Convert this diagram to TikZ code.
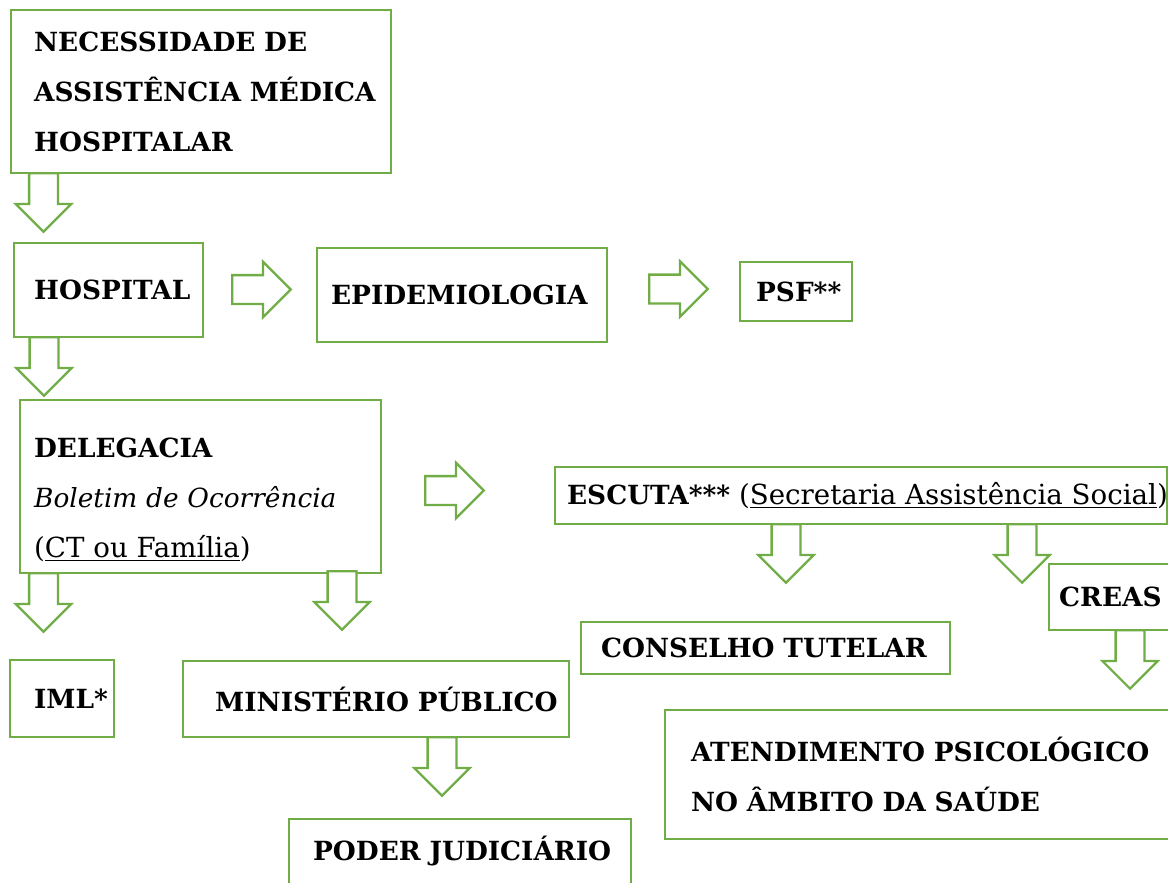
\documentclass[tikz,border=0pt]{standalone}
\usepackage{fontspec}
\setmainfont{DejaVu Serif}
\usetikzlibrary{shapes.arrows}
\definecolor{boxgreen}{HTML}{70AD47}
\newcommand{\plaintxt}{\normalfont\fontsize{15.75}{28.45}\selectfont}

\begin{document}
\begin{tikzpicture}[
    box/.style={draw=boxgreen, line width=1.3pt, fill=white, anchor=north west,
      align=left, inner ysep=0pt, font=\fontsize{15}{28.45}\selectfont\bfseries},
    darrow/.style={single arrow, shape border rotate=270, draw=boxgreen, line width=1.3pt,
      fill=white, inner sep=0.265cm, single arrow head extend=0.265cm,
      minimum height=1.17cm, anchor=tail},
    rarrow/.style={darrow, shape border rotate=0}
  ]
    \useasboundingbox (0,0) rectangle (23.36,-17.64);
    \clip (0,0) rectangle (23.36,-17.64);

    % caixas
    \node[box, text width=6.68cm, inner xsep=0.46cm, minimum height=3.26cm] (need) at (0.20,-0.18)
      {\mbox{NECESSIDADE DE}\\\mbox{ASSISTÊNCIA MÉDICA}\\\mbox{HOSPITALAR}};
    \node[box, text width=2.98cm, inner xsep=0.40cm, minimum height=1.88cm] (hosp) at (0.26,-4.84) {HOSPITAL};
    \node[box, text width=5.24cm, inner xsep=0.28cm, minimum height=1.88cm] (epid) at (6.32,-4.94) {EPIDEMIOLOGIA};
    \node[box, text width=1.60cm, inner xsep=0.32cm, minimum height=1.18cm] (psf) at (14.78,-5.22) {PSF**};
    \node[box, text width=6.66cm, inner xsep=0.28cm, minimum height=3.46cm] (deleg) at (0.38,-7.98)
      {\rule{0pt}{0.92cm}DELEGACIA\\\mbox{\normalfont\itshape Boletim de Ocorrência}\\\mbox{\plaintxt(\underline{CT ou Família})}};
    \node[box, text width=11.76cm, inner xsep=0.24cm, minimum height=1.14cm] (escuta) at (11.08,-9.32)
      {\mbox{ESCUTA*** {\plaintxt(\underline{Secretaria Assistência Social})}}};
    \node[box, text width=2.20cm, inner xsep=0.20cm, minimum height=1.32cm] (creas) at (20.96,-11.26) {CREAS};
    \node[box, text width=6.58cm, inner xsep=0.40cm, minimum height=1.04cm] (ct) at (11.60,-12.42) {\mbox{CONSELHO TUTELAR}};
    \node[box, text width=1.12cm, inner xsep=0.48cm, minimum height=1.54cm] (iml) at (0.18,-13.18) {IML*};
    \node[box, text width=6.44cm, inner xsep=0.64cm, minimum height=1.52cm] (mp) at (3.64,-13.20) {\mbox{MINISTÉRIO PÚBLICO}};
    \node[box, text width=5.88cm, inner xsep=0.48cm, minimum height=1.60cm, text depth=0.42cm] (pj) at (5.76,-16.36)
      {\mbox{PODER JUDICIÁRIO}};
    \node[box, text width=9.28cm, inner xsep=0.52cm, minimum height=2.58cm] (psi) at (13.28,-14.18)
      {\mbox{ATENDIMENTO PSICOLÓGICO}\\\mbox{NO ÂMBITO DA SAÚDE}};

    % setas para baixo
    \node[darrow] (a1) at (0.87,-3.44) {};
    \node[darrow] (a2) at (0.88,-6.72) {};
    \node[darrow] (a3) at (0.87,-11.44) {};
    \node[darrow] (a4) at (6.84,-11.40) {};
    \node[darrow] (a5) at (15.72,-10.46) {};
    \node[darrow] (a6) at (20.44,-10.46) {};
    \node[darrow] (a7) at (22.60,-12.58) {};
    \node[darrow] (a8) at (8.84,-14.72) {};

    % setas para a direita
    \node[rarrow] (b1) at (4.62,-5.79) {};
    \node[rarrow] (b2) at (12.96,-5.78) {};
    \node[rarrow] (b3) at (8.48,-9.81) {};
\end{tikzpicture}
\end{document}
